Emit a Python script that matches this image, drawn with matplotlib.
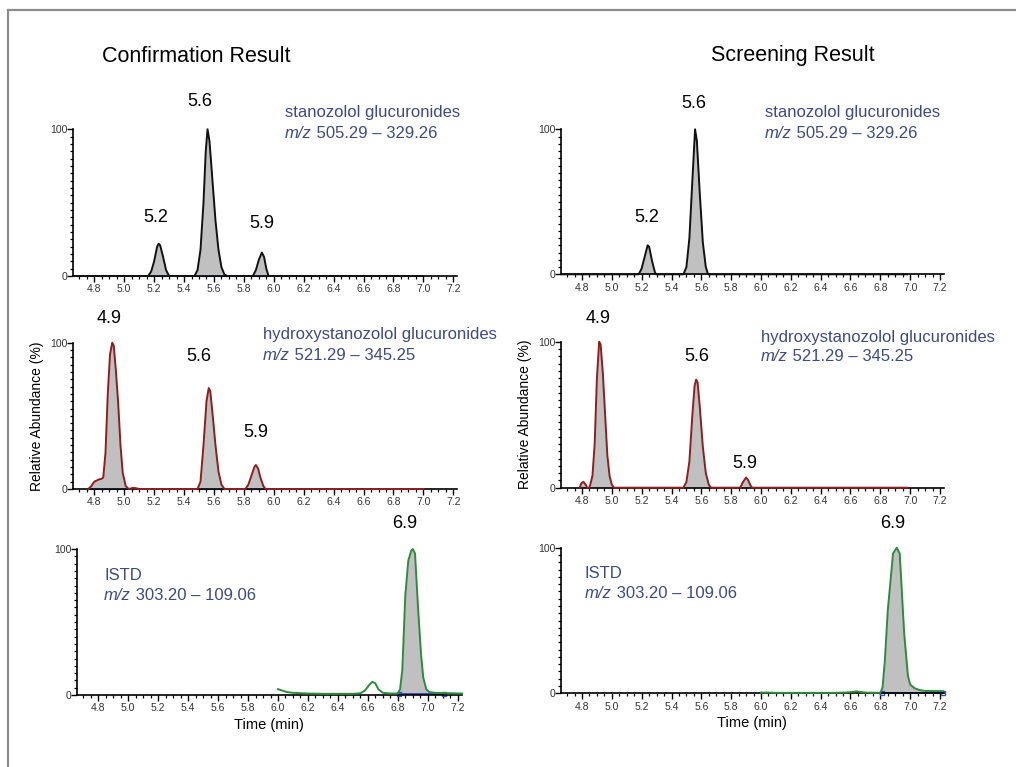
import matplotlib
matplotlib.use("Agg")
import matplotlib.pyplot as plt
from matplotlib.lines import Line2D
from matplotlib.ticker import MultipleLocator, FixedLocator, FormatStrFormatter
import numpy as np

plt.rcParams["font.family"] = ["Liberation Sans", "DejaVu Sans"]

W, H = 1016, 767

# ---- chromatogram traces (time in min, relative abundance %) ----
conf_stan_t = [4.66, 5.16, 5.18, 5.20, 5.22, 5.23, 5.24, 5.26, 5.28, 5.30,
               5.47, 5.49, 5.51, 5.53, 5.545, 5.557, 5.57, 5.59, 5.61, 5.63, 5.65, 5.67, 5.69,
               5.86, 5.88, 5.90, 5.92, 5.935, 5.95, 5.965, 7.00]
conf_stan_v = [0, 0, 3, 10, 20, 22, 21, 13, 4, 0,
               0, 4, 18, 50, 85, 100, 92, 65, 38, 18, 6, 1, 0,
               0, 4, 11, 16, 13, 5, 0, 0]

scr_stan_t = [4.66, 5.18, 5.20, 5.22, 5.24, 5.25, 5.27, 5.29, 5.30,
              5.48, 5.50, 5.52, 5.54, 5.558, 5.57, 5.59, 5.61, 5.63, 5.645, 6.98]
scr_stan_v = [0, 0, 4, 12, 20, 19, 9, 1, 0,
              0, 5, 25, 65, 100, 92, 55, 22, 5, 0, 0]

conf_hyd_t = [4.76, 4.78, 4.80, 4.83, 4.85, 4.86, 4.875, 4.89, 4.905, 4.92, 4.93, 4.945,
              4.96, 4.975, 4.99, 5.01, 5.03, 5.06, 5.08, 5.10,
              5.49, 5.51, 5.53, 5.55, 5.565, 5.575, 5.59, 5.61, 5.63, 5.65, 5.67,
              5.81, 5.83, 5.85, 5.87, 5.88, 5.895, 5.91, 5.93, 5.945, 7.00]
conf_hyd_v = [0, 2, 5, 6.5, 7, 8, 25, 65, 92, 100, 98, 80,
              58, 30, 11, 2, 0, 0.8, 0.5, 0,
              0, 5, 30, 60, 69, 67, 52, 30, 12, 3, 0,
              0, 3, 9, 15, 16.4, 14, 8, 2, 0, 0]

scr_hyd_t = [4.785, 4.795, 4.81, 4.825, 4.835,
             4.85, 4.87, 4.885, 4.90, 4.915, 4.925, 4.94, 4.955, 4.97, 4.985, 5.00, 5.015,
             5.48, 5.50, 5.52, 5.54, 5.555, 5.565, 5.575, 5.59, 5.61, 5.63, 5.65, 5.665,
             5.86, 5.88, 5.90, 5.915, 5.93, 5.94, 6.98]
scr_hyd_v = [0, 3, 4, 2, 0,
             0, 8, 30, 75, 100, 98, 78, 50, 22, 8, 2, 0,
             0, 4, 18, 50, 70, 74, 72, 55, 28, 10, 2, 0,
             0, 4, 7, 5, 1.5, 0, 0]

conf_istd_t = [6.00, 6.03, 6.06, 6.10, 6.20, 6.30, 6.40, 6.50, 6.55, 6.58, 6.61, 6.63,
               6.65, 6.67, 6.70, 6.75, 6.80, 6.815, 6.83, 6.85, 6.87, 6.89, 6.90, 6.915,
               6.935, 6.955, 6.97, 6.99, 7.01, 7.05, 7.15, 7.23]
conf_istd_v = [4, 3, 2, 1.5, 1, 0.8, 0.8, 0.8, 1.2, 3, 7, 9,
               8, 4, 1.5, 1, 1, 4, 17, 68, 92, 99, 100, 97,
               60, 28, 12, 4, 2, 1.5, 1.2, 1]

scr_istd_t = [6.00, 6.05, 6.10, 6.50, 6.58, 6.64, 6.70, 6.80, 6.815, 6.83, 6.85, 6.885,
              6.91, 6.93, 6.96, 6.985, 7.00, 7.03, 7.06, 7.10, 7.22]
scr_istd_v = [0.5, 0.5, 0.3, 0.3, 0.6, 1.3, 0.5, 0.3, 4, 22, 57, 96,
              100, 96, 41, 12, 6, 3.5, 2.3, 1.6, 1.5]

# integration windows (start, end, baseline level)
conf_istd_window = (6.81, 7.11, 1.0)
scr_istd_window = (6.81, 7.22, 0.3)

peak_labels_tl = [("5.6", 200, 102), ("5.2", 156, 217), ("5.9", 262, 223)]
peak_labels_tr = [("5.6", 694, 104), ("5.2", 647, 217)]
peak_labels_ml = [("4.9", 109, 318), ("5.6", 199, 357), ("5.9", 256, 433)]
peak_labels_mr = [("4.9", 598, 318), ("5.6", 697, 356), ("5.9", 745, 463)]
peak_labels_bl = [("6.9", 405, 523)]
peak_labels_br = [("6.9", 893, 523)]

XMIN, XMAX = 4.657, 7.228
FILL = "#c0c0c0"
NAVY = "#3d4b7f"
BLUE = "#3a4fc0"

fig = plt.figure(figsize=(W / 100, H / 100), dpi=100)
fig.patch.set_facecolor("white")


def fx(x):
    return x / W


def fy(y):
    return 1 - y / H


def make_axes(x48, x72, y0, y100):
    scale = (x72 - x48) / 2.4
    left = x48 - (4.8 - XMIN) * scale
    right = x72 + (XMAX - 7.2) * scale
    ax = fig.add_axes([fx(left), fy(y0), (right - left) / W, (y0 - y100) / H])
    ax.set_xlim(XMIN, XMAX)
    ax.set_ylim(0, 100)
    for s in ("top", "right"):
        ax.spines[s].set_visible(False)
    for s in ("left", "bottom"):
        ax.spines[s].set_linewidth(1.2)
        ax.spines[s].set_color("black")
    ax.xaxis.set_major_locator(FixedLocator(np.round(np.arange(4.8, 7.21, 0.2), 1)))
    ax.xaxis.set_minor_locator(MultipleLocator(0.05))
    ax.xaxis.set_major_formatter(FormatStrFormatter("%.1f"))
    ax.yaxis.set_major_locator(FixedLocator([0, 100]))
    ax.yaxis.set_minor_locator(MultipleLocator(5))
    ax.tick_params(axis="x", which="major", length=4, width=1.0, labelsize=7.5,
                   labelcolor="#333333", pad=2)
    ax.tick_params(axis="x", which="minor", length=2.5, width=0.9)
    ax.tick_params(axis="y", which="major", length=4, width=1.0, labelsize=7.5,
                   labelcolor="#333333", pad=0)
    ax.tick_params(axis="y", which="minor", length=2.5, width=0.9)
    ax.patch.set_alpha(0)
    return ax


def trace(ax, t, v, color, window=None, baselines=None):
    t = np.asarray(t)
    v = np.asarray(v)
    if window is None:
        ax.fill_between(t, v, 0, color=FILL, lw=0, zorder=1)
    else:
        a, b, base = window
        m = (t >= a - 1e-9) & (t <= b + 1e-9)
        ax.fill_between(t, v, base, where=m, color=FILL, lw=0, zorder=1,
                        interpolate=True)
        ax.plot([a, b], [base, base], color=BLUE, lw=1.4, zorder=2,
                marker="s", ms=3, mfc="none", mec=BLUE, clip_on=False)
    if baselines:
        for a, b in baselines:
            ax.plot([a, b], [0.3, 0.3], color=BLUE, lw=0.8, zorder=2, clip_on=False)
    ax.plot(t, v, color=color, lw=1.4, zorder=3, clip_on=False,
            solid_joinstyle="round")


def labels(items):
    for s, x, y in items:
        fig.text(fx(x), fy(y), s, fontsize=13, ha="center", va="center")


def compound(x, y1, y2, name, mz):
    fig.text(fx(x), fy(y1), name, fontsize=12, color=NAVY, va="center", ha="left")
    t1 = fig.text(fx(x), fy(y2), "m/z", fontsize=12, color=NAVY, va="center",
                  ha="left", style="italic")
    plt.annotate(" " + mz, xy=(1, 0), xycoords=t1, fontsize=12, color=NAVY,
                 va="bottom", ha="left", annotation_clip=False)


ax_tl = make_axes(94.3, 453.3, 276, 129.3)
trace(ax_tl, conf_stan_t, conf_stan_v, "#111111",
      baselines=[(5.16, 5.30), (5.47, 5.69), (5.86, 5.97)])
ax_tr = make_axes(582, 940, 274.3, 129.3)
trace(ax_tr, scr_stan_t, scr_stan_v, "#111111")
ax_ml = make_axes(94.3, 453.3, 489, 342.7)
trace(ax_ml, conf_hyd_t, conf_hyd_v, "#8c1f1f",
      baselines=[(4.77, 5.03), (5.48, 5.67), (5.81, 5.95)])
ax_mr = make_axes(582, 940, 487.7, 341.7)
trace(ax_mr, scr_hyd_t, scr_hyd_v, "#8c1f1f")
ax_bl = make_axes(98.3, 457.7, 695, 549)
trace(ax_bl, conf_istd_t, conf_istd_v, "#2e8b3e", window=conf_istd_window)
ax_br = make_axes(582, 940, 693.3, 547.7)
trace(ax_br, scr_istd_t, scr_istd_v, "#2e8b3e", window=scr_istd_window)

ax_ml.set_ylabel("Relative Abundance (%)", fontsize=10, labelpad=4)
ax_mr.set_ylabel("Relative Abundance (%)", fontsize=10, labelpad=4)
ax_bl.set_xlabel("Time (min)", fontsize=10.5, labelpad=3)
ax_br.set_xlabel("Time (min)", fontsize=10.5, labelpad=3)

fig.text(fx(196), fy(56), "Confirmation Result", fontsize=15.5, ha="center", va="center")
fig.text(fx(793), fy(56), "Screening Result", fontsize=15.5, ha="center", va="center")

for items in (peak_labels_tl, peak_labels_tr, peak_labels_ml,
              peak_labels_mr, peak_labels_bl, peak_labels_br):
    labels(items)

compound(285, 113, 133, "stanozolol glucuronides", "505.29 \u2013 329.26")
compound(765, 113, 133, "stanozolol glucuronides", "505.29 \u2013 329.26")
compound(263, 335, 355, "hydroxystanozolol glucuronides", "521.29 \u2013 345.25")
compound(761, 337, 356, "hydroxystanozolol glucuronides", "521.29 \u2013 345.25")
compound(104, 576, 596, "ISTD", "303.20 \u2013 109.06")
compound(585, 574, 594, "ISTD", "303.20 \u2013 109.06")

# grey frame (top and left edges visible)
fig.add_artist(Line2D([fx(8), fx(8)], [fy(10), 0], color="#8c8c8c", lw=1.6,
                      transform=fig.transFigure))
fig.add_artist(Line2D([fx(8), 1], [fy(10), fy(10)], color="#8c8c8c", lw=1.6,
                      transform=fig.transFigure))

fig.savefig("out.png", dpi=100, facecolor="white")
